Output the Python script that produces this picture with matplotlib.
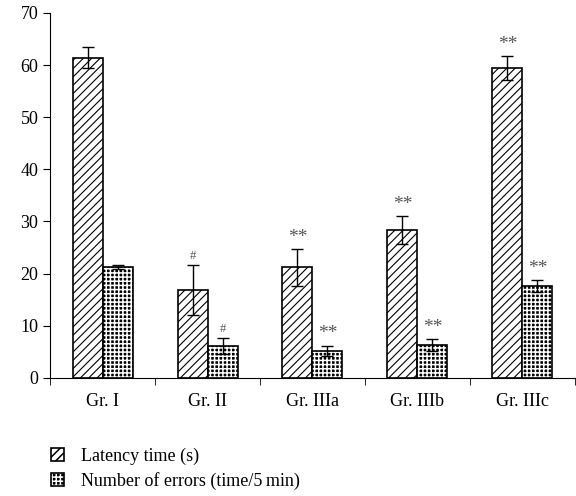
import matplotlib.pyplot as plt
import numpy as np

plt.rcParams['font.family'] = ['Liberation Serif', 'DejaVu Serif']

# Données
groupes = ['Gr. I', 'Gr. II', 'Gr. IIIa', 'Gr. IIIb', 'Gr. IIIc']
latence = [61.4, 16.8, 21.2, 28.3, 59.4]
latence_err = [2.0, 4.8, 3.5, 2.7, 2.3]
erreurs = [21.3, 6.1, 5.2, 6.3, 17.6]
erreurs_err = [0.4, 1.6, 1.0, 1.2, 1.2]
signif_latence = ['', '#', '**', '**', '**']
signif_erreurs = ['', '#', '**', '**', '**']

fig = plt.figure(figsize=(5.76, 4.96), dpi=100)
ax = fig.add_axes([0.087, 0.238, 0.911, 0.736])

x = np.arange(len(groupes))
w = 0.286
err_style = dict(elinewidth=1, capthick=1, ecolor='black')

# Latence : hachures diagonales
plt.rcParams['hatch.linewidth'] = 0.8
b1 = ax.bar(x - w / 2, latence, w, color='white', edgecolor='black', hatch='////',
            linewidth=1.2, yerr=latence_err, capsize=4, error_kw=err_style)

# Erreurs : motif en damier (fond noir + grille blanche)
plt.rcParams['hatch.linewidth'] = 1.1
b2_fond = ax.bar(x + w / 2, erreurs, w, color='black', edgecolor='white',
                 hatch='++++', linewidth=0)
b2 = ax.bar(x + w / 2, erreurs, w, color='none', edgecolor='black',
            linewidth=1.2, yerr=erreurs_err, capsize=4, error_kw=err_style)

# Annotations de significativité
for i in range(len(groupes)):
    if signif_latence[i]:
        fs = 9 if signif_latence[i] == '#' else 14
        ax.text(x[i] - w / 2, latence[i] + latence_err[i] + 0.6, signif_latence[i],
                ha='center', va='bottom', fontsize=fs, color='#555555')
    if signif_erreurs[i]:
        fs = 9 if signif_erreurs[i] == '#' else 14
        ax.text(x[i] + w / 2, erreurs[i] + erreurs_err[i] + 0.6, signif_erreurs[i],
                ha='center', va='bottom', fontsize=fs, color='#555555')

ax.set_xlim(-0.5, len(groupes) - 0.5)
ax.set_ylim(0, 70)
ax.set_yticks(range(0, 71, 10))
ax.set_xticks(x)
ax.set_xticklabels(groupes, fontsize=13)
ax.set_xticks(np.arange(-0.5, len(groupes)), minor=True)
ax.tick_params(axis='x', which='major', length=0, pad=11)
ax.tick_params(axis='x', which='minor', length=5, direction='out')
ax.tick_params(axis='y', labelsize=13, length=5, direction='out')
ax.spines['top'].set_visible(False)
ax.spines['right'].set_visible(False)

fig.legend(handles=[b1.patches[0], (b2_fond.patches[0], b2.patches[0])],
           labels=['Latency time (s)', 'Number of errors (time/5\u2009min)'],
           loc='upper left', bbox_to_anchor=(0.06, 0.13),
           frameon=False, fontsize=13, handlelength=0.75, handleheight=0.75,
           handletextpad=0.9, labelspacing=0.38)

fig.savefig('out.png', dpi=100)
